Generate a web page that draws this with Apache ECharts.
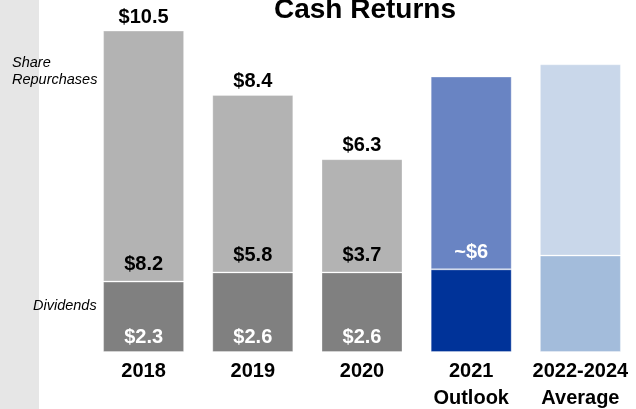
<!DOCTYPE html>
<html>
<head>
<meta charset="utf-8">
<script src="https://cdn.jsdelivr.net/npm/echarts@6/dist/echarts.min.js"></script>
<style>
  html, body { margin: 0; padding: 0; background: #fff; }
  #chart { width: 636px; height: 409px; }
</style>
</head>
<body>
<div id="chart"></div>
<script>
// Cash returns by period, $ billions
const categories = ['2018', '2019', '2020', '2021\nOutlook', '2022-2024\nAverage'];
const dividends = [2.3, 2.6, 2.6, 2.7, 3.15];
const repurchases = [8.2, 5.8, 3.7, 6.3, 6.25];
const totals = [10.5, 8.4, 6.3, null, null];
// 'exact' values get "$x.x", 'approx' get "~$x", 'none' has no label
const labelKind = ['exact', 'exact', 'exact', 'approx', 'none'];

const dividendColors = ['#808080', '#808080', '#808080', '#003399', '#a3bcdb'];
const repurchaseColors = ['#b3b3b3', '#b3b3b3', '#b3b3b3', '#6984c3', '#c9d7ea'];
const repurchaseLabelColors = ['#000', '#000', '#000', '#fff', '#000'];

const font = 'Liberation Sans, Arial, sans-serif';

function money(v, kind) {
  if (kind === 'exact') return '$' + v.toFixed(1);
  if (kind === 'approx') return '~$' + Math.round(v);
  return '';
}

const chart = echarts.init(document.getElementById('chart'), null, { renderer: 'canvas' });

chart.setOption({
  animation: false,
  title: {
    text: 'Cash Returns',
    left: 360,
    top: -9,
    textAlign: 'center',
    textStyle: { fontFamily: font, fontSize: 28, fontWeight: 'bold', color: '#000' }
  },
  graphic: [
    { type: 'rect', left: 0, top: 0, shape: { width: 39, height: 409 }, style: { fill: '#e6e6e6' }, z: -1 },
    {
      type: 'text', left: 12, top: 54,
      style: { text: 'Share\nRepurchases', font: 'italic 14.5px ' + font, fill: '#000', lineHeight: 17 }
    },
    {
      type: 'text', left: 33, top: 298,
      style: { text: 'Dividends', font: 'italic 14.5px ' + font, fill: '#000' }
    }
  ],
  grid: { left: 89, right: 1, top: 0, bottom: 57, outerBoundsMode: 'none', containLabel: false },
  xAxis: {
    type: 'category',
    data: categories,
    axisLine: { show: false },
    axisTick: { show: false },
    axisLabel: {
      fontFamily: font, fontSize: 20, fontWeight: 'bold', color: '#000',
      lineHeight: 27, margin: 6, interval: 0
    }
  },
  yAxis: {
    type: 'value', min: 0, max: 11.5,
    show: false, splitLine: { show: false }
  },
  series: [
    {
      name: 'Dividends',
      type: 'bar',
      stack: 'cash',
      barWidth: 81,
      data: dividends.map((v, i) => ({
        value: v,
        itemStyle: { color: dividendColors[i] },
        label: { show: labelKind[i] === 'exact' }
      })),
      itemStyle: { borderColor: 'rgba(255,255,255,0.3)', borderWidth: 1 },
      label: {
        position: 'insideBottom', distance: 5,
        fontFamily: font, fontSize: 20, fontWeight: 'bold', color: '#fff',
        formatter: p => money(p.value, labelKind[p.dataIndex])
      }
    },
    {
      name: 'Share Repurchases',
      type: 'bar',
      stack: 'cash',
      barWidth: 81,
      data: repurchases.map((v, i) => ({
        value: v,
        itemStyle: { color: repurchaseColors[i] },
        label: { show: labelKind[i] !== 'none', color: repurchaseLabelColors[i] }
      })),
      itemStyle: { borderColor: 'rgba(255,255,255,0.3)', borderWidth: 1 },
      label: {
        position: 'insideBottom', distance: 7,
        fontFamily: font, fontSize: 20, fontWeight: 'bold',
        formatter: p => money(p.value, labelKind[p.dataIndex])
      }
    },
    {
      // invisible markers carrying the stack totals above the bars
      name: 'Total',
      type: 'scatter',
      data: totals,
      symbolSize: 1,
      itemStyle: { color: 'rgba(0,0,0,0)', opacity: 1 },
      silent: true,
      z: 5,
      label: {
        show: true, position: 'top', distance: 3,
        fontFamily: font, fontSize: 20, fontWeight: 'bold', color: '#000',
        formatter: p => p.value == null ? '' : '$' + p.value.toFixed(1)
      }
    }
  ]
});
</script>
</body>
</html>
